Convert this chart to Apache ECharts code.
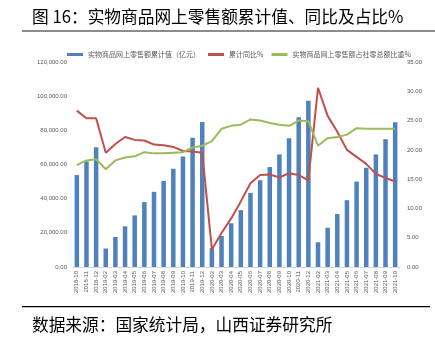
<!DOCTYPE html>
<html>
<head>
<meta charset="utf-8">
<script src="https://cdn.jsdelivr.net/npm/echarts@6/dist/echarts.min.js"></script>
<style>
html,body{margin:0;padding:0;background:#fff;}
#c{width:435px;height:337px;}
</style>
</head>
<body>
<div id="c"></div>
<script>
const categories = ['2018-10','2018-11','2018-12','2019-02','2019-03','2019-04','2019-05','2019-06','2019-07','2019-08','2019-09','2019-10','2019-11','2019-12','2020-02','2020-03','2020-04','2020-05','2020-06','2020-07','2020-08','2020-09','2020-10','2020-11','2020-12','2021-02','2021-03','2021-04','2021-05','2021-06','2021-07','2021-08','2021-09','2021-10'];
const onlineCumulative = [53800,61800,70100,10800,17600,23800,30200,38000,44000,50400,57500,64700,75600,84900,11000,18200,25600,33300,43400,50800,58500,65900,75300,87600,97300,14500,23000,31000,39100,50000,58100,65900,74800,84700];
const cumulativeYoY = [26.7,25.4,25.4,19.5,21.0,22.2,21.7,21.6,20.9,20.8,20.5,19.8,19.7,19.5,3.0,5.8,8.3,11.2,14.3,15.7,15.8,15.3,16.0,15.7,14.8,30.6,25.8,23.1,20.0,18.8,17.6,15.9,15.2,14.6];
const shareOfRetail = [17.4,18.2,18.4,16.7,18.2,18.7,18.9,19.6,19.4,19.4,19.5,19.6,20.4,20.7,21.5,23.6,24.1,24.3,25.2,25.0,24.6,24.3,24.1,25.0,24.9,20.7,22.0,22.2,22.6,23.7,23.6,23.6,23.6,23.6];
const leftTicks = {min:0, max:120000, interval:20000};
const rightTicks = {min:0, max:35, interval:5};
const seriesNames = ['实物商品网上零售额累计值（亿元）','累计同比%','实物商品网上零售额占社零总额比重%'];
const titleText = '图 16：实物商品网上零售额累计值、同比及占比%';
const sourceText = '数据来源：国家统计局，山西证券研究所';

const chart = echarts.init(document.getElementById('c'), null, {renderer:'canvas'});
const lblColor = '#595959';
const fmt2 = v => Number(v).toLocaleString('en-US',{minimumFractionDigits:2,maximumFractionDigits:2});
chart.setOption({
  animation:false,
  backgroundColor:'#fff',
  textStyle:{fontFamily:'"Noto Sans CJK SC", "Liberation Sans", sans-serif'},
  graphic:[
    {type:'text', left:32, top:8, style:{text:titleText, fontSize:16.7, fill:'#000', fontFamily:'"Noto Sans CJK SC", sans-serif'}},
    {type:'rect', shape:{x:22,y:30,width:413,height:2}, style:{fill:'#8c8c8c'}},
    {type:'rect', shape:{x:22,y:306,width:408,height:1.3}, style:{fill:'#000'}},
    {type:'text', left:32, top:316, style:{text:sourceText, fontSize:16.7, fill:'#000', fontFamily:'"Noto Sans CJK SC", sans-serif'}}
  ],
  legend:{
    left:62, top:46,
    itemWidth:16, itemHeight:3, itemGap:8,
    textStyle:{fontSize:7, color:lblColor},
    data:[
      {name:seriesNames[0], icon:'rect'},
      {name:seriesNames[1], icon:'rect'},
      {name:seriesNames[2], icon:'rect'}
    ]
  },
  grid:{left:72, right:35, top:62, bottom:70, containLabel:false},
  xAxis:{
    type:'category', data:categories,
    axisLine:{lineStyle:{color:'#d9d9d9'}},
    axisTick:{show:false},
    axisLabel:{rotate:90, fontSize:6, color:lblColor, margin:4, interval:0, fontFamily:'"Liberation Sans", sans-serif'}
  },
  yAxis:[
    {type:'value', min:leftTicks.min, max:leftTicks.max, interval:leftTicks.interval,
     splitLine:{show:false}, axisLine:{show:false}, axisTick:{show:false},
     axisLabel:{fontSize:6, color:lblColor, margin:5, formatter:fmt2, fontFamily:'"Liberation Sans", sans-serif'}},
    {type:'value', min:rightTicks.min, max:rightTicks.max, interval:rightTicks.interval,
     splitLine:{show:false}, axisLine:{show:false}, axisTick:{show:false},
     axisLabel:{fontSize:6, color:lblColor, margin:7, formatter:v=>Number(v).toFixed(2), fontFamily:'"Liberation Sans", sans-serif'}}
  ],
  series:[
    {name:seriesNames[0], type:'bar', data:onlineCumulative, barWidth:4.5, itemStyle:{color:'#4f81bd'}},
    {name:seriesNames[1], type:'line', yAxisIndex:1, data:cumulativeYoY, symbol:'none', lineStyle:{color:'#c0504d', width:2}, itemStyle:{color:'#c0504d'}},
    {name:seriesNames[2], type:'line', yAxisIndex:1, data:shareOfRetail, symbol:'none', lineStyle:{color:'#9bbb59', width:2}, itemStyle:{color:'#9bbb59'}}
  ]
});
</script>
</body>
</html>
